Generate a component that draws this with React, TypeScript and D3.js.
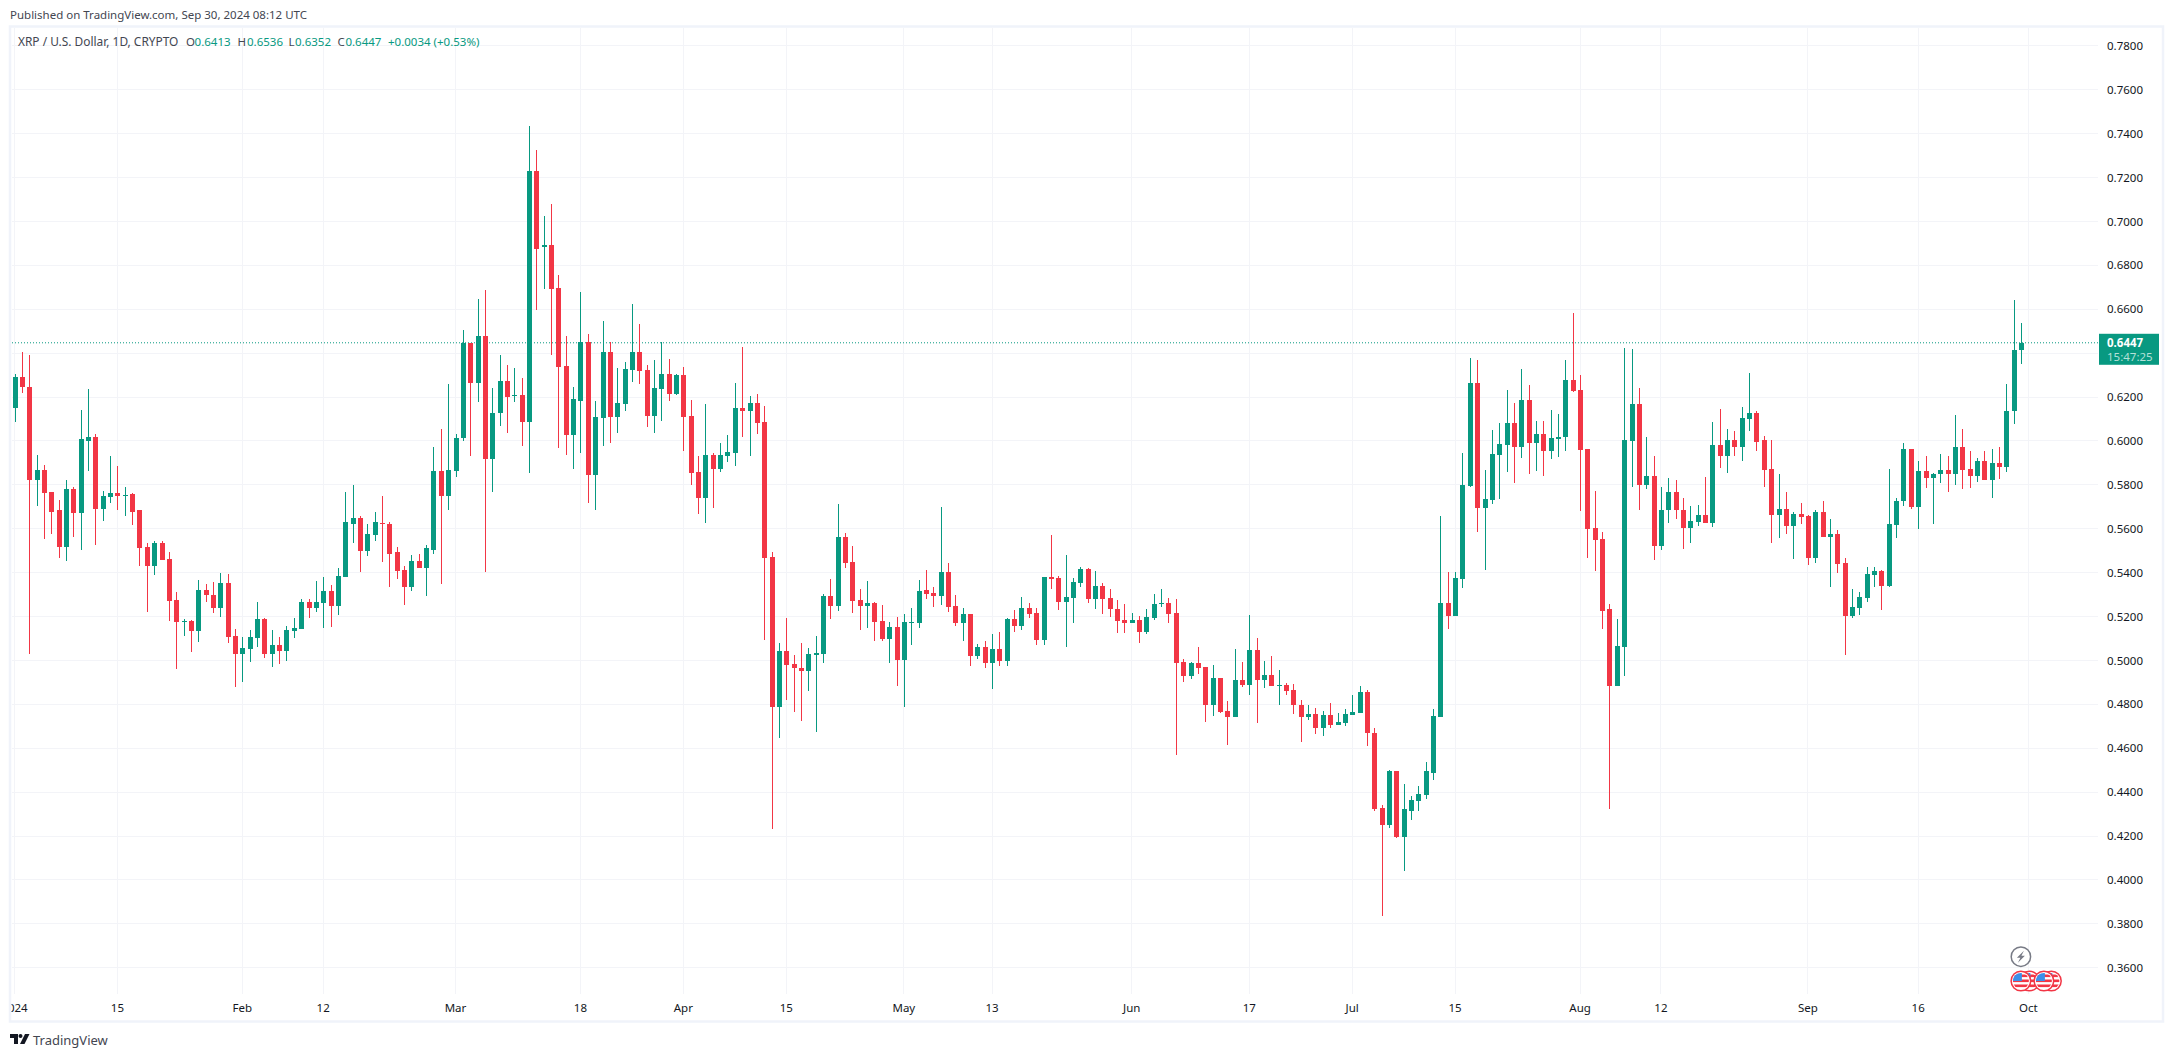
import * as d3 from 'd3';
import React, { useEffect, useRef } from 'react';

type Ohlc = [number, number, number, number];

// open, high, low, close per day
const jan: Ohlc[] = [
  [.6151,.6305,.6084,.6293],[.6293,.6403,.6220,.6244],[.6246,.6393,.5028,.5820],[.5820,.5938,.5702,.5869],
  [.5869,.5891,.5552,.5761],[.5765,.5765,.5574,.5678],[.5684,.5733,.5465,.5516],[.5516,.5820,.5451,.5780],
  [.5780,.5790,.5560,.5670],[.5670,.6143,.5501,.6007],[.6001,.6238,.5861,.6019],[.6019,.6033,.5528,.5692],
  [.5692,.5773,.5633,.5747],[.5743,.5930,.5715,.5761],[.5761,.5887,.5684,.5747],[.5753,.5792,.5660,.5755],
  [.5757,.5761,.5615,.5678],[.5684,.5684,.5432,.5510],[.5516,.5534,.5219,.5432],[.5432,.5546,.5390,.5534],
  [.5534,.5546,.5457,.5457],[.5461,.5493,.5179,.5270],[.5274,.5311,.4959,.5175],[.5179,.5187,.5110,.5181],
  [.5181,.5185,.5039,.5134],[.5134,.5365,.5083,.5319],[.5319,.5347,.5266,.5296],[.5300,.5355,.5215,.5238],
  [.5238,.5396,.5197,.5351],[.5351,.5392,.5079,.5106],[.5110,.5144,.4878,.5028],
];
const feb: Ohlc[] = [
  [.5028,.5106,.4901,.5055],[.5051,.5138,.4992,.5106],[.5102,.5266,.5063,.5187],[.5187,.5193,.5012,.5028],
  [.5028,.5138,.4970,.5069],[.5069,.5106,.4984,.5043],[.5043,.5156,.4996,.5138],[.5134,.5193,.5102,.5146],
  [.5142,.5282,.5142,.5266],[.5266,.5282,.5193,.5238],[.5238,.5361,.5219,.5266],[.5260,.5380,.5146,.5315],
  [.5315,.5343,.5152,.5248],[.5248,.5420,.5205,.5384],[.5380,.5769,.5380,.5629],[.5623,.5798,.5534,.5648],
  [.5648,.5656,.5402,.5497],[.5497,.5623,.5475,.5574],[.5570,.5678,.5542,.5629],[.5627,.5751,.5447,.5625],
  [.5623,.5629,.5333,.5487],[.5493,.5516,.5369,.5406],[.5410,.5432,.5252,.5333],[.5333,.5479,.5315,.5451],
  [.5451,.5487,.5420,.5420],[.5420,.5528,.5292,.5510],[.5505,.5970,.5483,.5865],[.5865,.6056,.5347,.5747],
  [.5747,.6261,.5684,.5869],
];
const mar: Ohlc[] = [
  [.5865,.6033,.5834,.6015],[.6011,.6506,.6001,.6447],[.6447,.6447,.5930,.6265],[.6265,.6646,.6175,.6480],
  [.6480,.6689,.5402,.5916],[.5916,.6242,.5765,.6129],[.6125,.6393,.6070,.6275],[.6275,.6348,.6037,.6202],
  [.6206,.6334,.6175,.6210],[.6210,.6287,.5978,.6088],[.6088,.7436,.5853,.7229],[.7229,.7324,.6596,.6874],
  [.6883,.7026,.6693,.6894],[.6894,.7079,.6392,.6693],[.6697,.6755,.5969,.6337],[.6342,.6479,.5938,.6028],
  [.6028,.6247,.5874,.6192],[.6183,.6679,.5946,.6452],[.6452,.6487,.5719,.5845],[.5845,.6183,.5686,.6110],
  [.6105,.6547,.5977,.6406],[.6406,.6452,.5991,.6110],[.6110,.6333,.6037,.6174],[.6169,.6359,.6136,.6328],
  [.6324,.6624,.6269,.6406],[.6406,.6534,.6260,.6320],[.6324,.6346,.6063,.6114],[.6114,.6370,.6037,.6242],
  [.6238,.6452,.6092,.6306],[.6306,.6375,.6183,.6214],[.6214,.6306,.6209,.6298],
];
const apr: Ohlc[] = [
  [.6298,.6337,.5955,.6110],[.6114,.6187,.5801,.5854],[.5860,.5933,.5668,.5741],[.5741,.6169,.5626,.5938],
  [.5938,.5946,.5695,.5874],[.5874,.5991,.5860,.5938],[.5933,.6028,.5902,.5951],[.5946,.6264,.5887,.6152],
  [.6152,.6428,.6019,.6136],[.6136,.6205,.5933,.6174],[.6174,.6214,.6033,.6083],[.6088,.6161,.5094,.5467],
  [.5472,.5494,.4233,.4789],[.4789,.5081,.4648,.5043],[.5043,.5193,.4820,.4979],[.4984,.5026,.4765,.4966],
  [.4966,.5081,.4725,.4953],[.4953,.5057,.4862,.5030],[.5026,.5112,.4675,.5035],[.5030,.5302,.4988,.5295],
  [.5295,.5372,.5189,.5249],[.5249,.5712,.5227,.5562],[.5562,.5582,.5421,.5445],[.5450,.5522,.5218,.5271],
  [.5275,.5326,.5140,.5249],[.5249,.5364,.5149,.5262],[.5262,.5266,.5090,.5176],[.5180,.5253,.5090,.5099],
  [.5099,.5176,.4988,.5154],[.5154,.5198,.4884,.5004],
];
const may: Ohlc[] = [
  [.5004,.5213,.4789,.5176],[.5171,.5240,.5068,.5176],[.5171,.5368,.5149,.5317],[.5322,.5412,.5280,.5304],
  [.5308,.5335,.5244,.5295],[.5295,.5699,.5253,.5403],[.5403,.5445,.5222,.5244],[.5249,.5300,.5158,.5171],
  [.5171,.5240,.5090,.5213],[.5213,.5213,.4975,.5021],[.5021,.5076,.5008,.5061],[.5061,.5090,.4966,.4988],
  [.4988,.5121,.4871,.5052],[.5052,.5130,.4975,.4997],[.4999,.5193,.4975,.5189],[.5189,.5231,.5130,.5158],
  [.5158,.5291,.5140,.5240],[.5240,.5262,.5193,.5213],[.5218,.5240,.5072,.5094],[.5094,.5381,.5072,.5381],
  [.5381,.5573,.5326,.5372],[.5377,.5386,.5231,.5266],[.5266,.5481,.5061,.5291],[.5286,.5377,.5171,.5359],
  [.5354,.5427,.5335,.5417],[.5417,.5423,.5262,.5281],[.5281,.5409,.5236,.5340],[.5340,.5354,.5213,.5281],
  [.5285,.5327,.5199,.5232],[.5236,.5277,.5126,.5181],[.5185,.5258,.5126,.5171],
];
const jun: Ohlc[] = [
  [.5171,.5218,.5171,.5185],[.5185,.5201,.5081,.5130],[.5130,.5232,.5122,.5199],[.5195,.5303,.5185,.5258],
  [.5258,.5327,.5244,.5262],[.5262,.5285,.5171,.5213],[.5218,.5281,.4571,.4990],[.4994,.5008,.4902,.4927],
  [.4927,.4994,.4917,.4990],[.4990,.5063,.4939,.4967],[.4971,.4971,.4721,.4799],[.4799,.4979,.4748,.4921],
  [.4921,.4921,.4762,.4766],[.4770,.4813,.4616,.4744],[.4744,.5053,.4744,.4909],[.4909,.4994,.4880,.4890],
  [.4890,.5207,.4843,.5049],[.5049,.5100,.4715,.4909],[.4909,.4998,.4872,.4935],[.4935,.5022,.4884,.4884],
  [.4886,.4957,.4799,.4890],[.4890,.4898,.4843,.4862],[.4866,.4894,.4758,.4795],[.4799,.4821,.4626,.4740],
  [.4740,.4799,.4730,.4758],[.4758,.4785,.4663,.4693],[.4693,.4770,.4656,.4752],[.4752,.4807,.4693,.4707],
  [.4707,.4762,.4707,.4721],[.4715,.4780,.4699,.4758],
];
const jul: Ohlc[] = [
  [.4752,.4843,.4752,.4766],[.4762,.4884,.4762,.4854],[.4854,.4866,.4612,.4667],[.4671,.4693,.4315,.4325],
  [.4329,.4339,.3837,.4248],[.4248,.4502,.4238,.4494],[.4494,.4494,.4189,.4197],[.4197,.4439,.4042,.4321],
  [.4315,.4384,.4274,.4362],[.4358,.4429,.4315,.4392],[.4388,.4539,.4370,.4494],[.4488,.4780,.4453,.4748],
  [.4744,.5659,.4744,.5262],[.5262,.5405,.5142,.5203],[.5203,.5405,.5203,.5376],[.5372,.5945,.5331,.5801],
  [.5795,.6378,.5789,.6265],[.6265,.6370,.5586,.5695],[.5695,.5868,.5413,.5736],[.5732,.6051,.5714,.5941],
  [.5937,.6082,.5736,.5986],[.5982,.6232,.5860,.6082],[.6082,.6173,.5809,.5974],[.5974,.6328,.5923,.6187],
  [.6187,.6256,.5850,.5992],[.5992,.6092,.5864,.6033],[.6033,.6092,.5842,.5956],[.5956,.6143,.5919,.6014],
  [.6010,.6124,.5927,.6016],[.6018,.6370,.5956,.6279],[.6279,.6584,.6224,.6228],
];
const aug: Ohlc[] = [
  [.6232,.6301,.5681,.5960],[.5964,.5964,.5468,.5600],[.5604,.5773,.5409,.5549],[.5555,.5586,.5144,.5226],
  [.5232,.5258,.4325,.4884],[.4884,.5189,.4884,.5067],[.5060,.6425,.4930,.6002],[.5998,.6419,.5789,.6166],
  [.6166,.6243,.5683,.5801],[.5801,.6020,.5783,.5842],[.5842,.5933,.5459,.5523],[.5523,.5792,.5505,.5687],
  [.5683,.5833,.5628,.5769],[.5769,.5824,.5646,.5683],[.5687,.5742,.5509,.5605],[.5605,.5705,.5537,.5637],
  [.5632,.5710,.5614,.5664],[.5664,.5837,.5628,.5628],[.5628,.6088,.5610,.5983],[.5983,.6147,.5878,.5933],
  [.5933,.6056,.5856,.6002],[.6002,.6043,.5929,.5970],[.5970,.6156,.5910,.6106],[.6102,.6311,.6047,.6129],
  [.6129,.6138,.5956,.5997],[.6002,.6024,.5792,.5869],[.5874,.6002,.5537,.5664],[.5664,.5847,.5559,.5692],
  [.5692,.5769,.5578,.5614],[.5614,.5678,.5464,.5669],[.5669,.5719,.5623,.5655],
];
const sep: Ohlc[] = [
  [.5660,.5664,.5436,.5468],[.5468,.5687,.5446,.5678],[.5678,.5724,.5564,.5564],[.5564,.5646,.5336,.5578],
  [.5578,.5596,.5400,.5441],[.5446,.5468,.5026,.5204],[.5204,.5327,.5195,.5245],[.5240,.5313,.5209,.5291],
  [.5286,.5427,.5268,.5395],[.5391,.5427,.5336,.5409],[.5409,.5414,.5231,.5341],[.5341,.5874,.5336,.5623],
  [.5619,.5742,.5559,.5728],[.5724,.5992,.5705,.5961],[.5961,.5961,.5692,.5701],[.5701,.5910,.5600,.5865],
  [.5865,.5933,.5787,.5833],[.5833,.5856,.5623,.5851],[.5847,.5942,.5810,.5869],[.5869,.5929,.5765,.5847],
  [.5847,.6120,.5801,.5974],[.5974,.6052,.5783,.5869],[.5874,.5956,.5787,.5842],[.5842,.5924,.5815,.5910],
  [.5910,.5956,.5824,.5824],[.5824,.5961,.5742,.5901],[.5901,.5970,.5828,.5883],[.5883,.6257,.5860,.6138],
  [.6134,.6644,.6079,.6412],[.6413,.6536,.6352,.6447],
];

const priceTicks = d3.range(18, 40).map(i => i * 0.02);
const timeTicks: [string, string][] = [
  ['2024-01-01', '2024'], ['2024-01-15', '15'], ['2024-02-01', 'Feb'], ['2024-02-12', '12'],
  ['2024-03-01', 'Mar'], ['2024-03-18', '18'], ['2024-04-01', 'Apr'], ['2024-04-15', '15'],
  ['2024-05-01', 'May'], ['2024-05-13', '13'], ['2024-06-01', 'Jun'], ['2024-06-17', '17'],
  ['2024-07-01', 'Jul'], ['2024-07-15', '15'], ['2024-08-01', 'Aug'], ['2024-08-12', '12'],
  ['2024-09-01', 'Sep'], ['2024-09-16', '16'], ['2024-10-01', 'Oct'],
];
const lastPrice = 0.6447;
const countdown = '15:47:25';
const publishedText = 'Published on TradingView.com, Sep 30, 2024 08:12 UTC';
const legendTitle = 'XRP / U.S. Dollar, 1D, CRYPTO';
const legendLabels = ['O', 'H', 'L', 'C'];
const legendValues = ['0.6413', '0.6536', '0.6352', '0.6447'];
const legendChange = '+0.0034 (+0.53%)';

const GREEN = '#089981';
const RED = '#F23645';
const BORDER = '#F0F3FA';
const GRID = '#F3F4F8';
const FONT = '"Noto Sans", sans-serif';

const App: React.FC = () => {
  const svgRef = useRef<SVGSVGElement>(null);

  useEffect(() => {
    if (!svgRef.current) return;
    const svg = d3.select(svgRef.current);
    svg.selectAll('*').remove();

    const candles = [...jan, ...feb, ...mar, ...apr, ...may, ...jun, ...jul, ...aug, ...sep];
    const day0 = new Date(Date.UTC(2024, 0, 1));

    const plot = { left: 11, right: 2098, top: 28, bottom: 994 };

    const xScale = d3.scaleUtc()
      .domain([day0, new Date(Date.UTC(2024, 9, 1))])
      .range([14.5, 2028.4]);
    const yScale = d3.scaleLinear().domain([0.78, 0.36]).range([45.8, 967.7]);
    const dayX = (i: number) => xScale(d3.utcDay.offset(day0, i));

    svg.append('rect').attr('width', 2174).attr('height', 1057).attr('fill', '#fff');

    // panel border
    svg.append('rect')
      .attr('x', 10).attr('y', 26.5).attr('width', 2153).attr('height', 995)
      .attr('fill', 'none').attr('stroke', BORDER).attr('stroke-width', 2.5);

    svg.append('defs').append('clipPath').attr('id', 'time-clip')
      .append('rect').attr('x', plot.left + 0.5).attr('y', plot.top)
      .attr('width', 2150).attr('height', 990);

    // grid
    const grid = svg.append('g').attr('shape-rendering', 'crispEdges');
    grid.selectAll('.gy').data(priceTicks).join('line')
      .attr('x1', plot.left + 1).attr('x2', plot.right)
      .attr('y1', d => yScale(d)).attr('y2', d => yScale(d))
      .attr('stroke', GRID).attr('stroke-width', 1);
    grid.selectAll('.gx').data(timeTicks).join('line')
      .attr('x1', d => xScale(new Date(d[0]))).attr('x2', d => xScale(new Date(d[0])))
      .attr('y1', plot.top).attr('y2', plot.bottom)
      .attr('stroke', GRID).attr('stroke-width', 1);

    // last price line
    svg.append('line')
      .attr('x1', plot.left + 1).attr('x2', plot.right)
      .attr('y1', yScale(lastPrice)).attr('y2', yScale(lastPrice))
      .attr('stroke', GREEN).attr('stroke-width', 1).attr('stroke-dasharray', '1 2');

    // candles
    const bars = svg.append('g').attr('shape-rendering', 'crispEdges');
    const colorOf = (d: Ohlc) => (d[3] >= d[0] ? GREEN : RED);
    bars.selectAll('.wick').data(candles).join('line')
      .attr('x1', (_, i) => Math.round(dayX(i)) + 0.5).attr('x2', (_, i) => Math.round(dayX(i)) + 0.5)
      .attr('y1', d => yScale(d[1])).attr('y2', d => yScale(d[2]))
      .attr('stroke', colorOf).attr('stroke-width', 1);
    bars.selectAll('.body').data(candles).join('rect')
      .attr('x', (_, i) => Math.round(dayX(i)) - 2)
      .attr('width', 5)
      .attr('y', d => yScale(Math.max(d[0], d[3])))
      .attr('height', d => Math.max(1.5, Math.abs(yScale(d[0]) - yScale(d[3]))))
      .attr('fill', colorOf);

    // price axis, the 0.6400 label sits behind the last price tag
    const yAxis = svg.append('g')
      .attr('transform', `translate(${plot.right + 9}, 0)`)
      .call(d3.axisRight(yScale)
        .tickValues(priceTicks.filter(p => Math.abs(p - 0.64) > 0.001))
        .tickSize(0).tickPadding(0).tickFormat(d3.format('.4f')));
    yAxis.select('.domain').remove();
    yAxis.selectAll('text').style('font-family', FONT).style('font-size', '11.5px').attr('fill', '#131722');

    // time axis
    svg.append('g').attr('clip-path', 'url(#time-clip)')
      .selectAll('text').data(timeTicks).join('text')
      .attr('x', d => xScale(new Date(d[0])))
      .attr('y', 1008)
      .attr('dy', '0.35em')
      .attr('text-anchor', 'middle')
      .style('font-family', FONT).style('font-size', '11.5px').attr('fill', '#131722')
      .text(d => d[1]);

    // last price tag
    const tagY = yScale(lastPrice);
    svg.append('rect').attr('x', 2099).attr('y', tagY - 9).attr('width', 60).attr('height', 31).attr('fill', GREEN);
    svg.append('text').attr('x', 2107).attr('y', tagY).attr('dy', '0.35em')
      .style('font-family', FONT).style('font-size', '11.5px').style('font-weight', 700).attr('fill', '#fff')
      .text(d3.format('.4f')(lastPrice));
    svg.append('text').attr('x', 2107).attr('y', tagY + 14.5).attr('dy', '0.35em')
      .style('font-family', FONT).style('font-size', '11.5px').attr('fill', '#B5E0D8')
      .text(countdown);

    // header and legend
    svg.append('text').attr('x', 10).attr('y', 14.5).attr('dy', '0.35em')
      .style('font-family', FONT).style('font-size', '11.5px').attr('fill', '#434651')
      .text(publishedText);
    const legend = svg.append('g').style('font-family', FONT).style('font-size', '11.5px');
    const legendY = 41.5;
    legend.append('text').attr('x', 18).attr('y', legendY).attr('dy', '0.35em')
      .style('font-size', '11.9px').attr('fill', '#434651').text(legendTitle);
    const labelX = [186, 237.6, 288.6, 337.5];
    const valueX = [194.6, 247, 295, 345.4];
    legendLabels.forEach((label, i) => {
      legend.append('text').attr('x', labelX[i]).attr('y', legendY).attr('dy', '0.35em').attr('fill', '#434651').text(label);
      legend.append('text').attr('x', valueX[i]).attr('y', legendY).attr('dy', '0.35em').attr('fill', GREEN).text(legendValues[i]);
    });
    legend.append('text').attr('x', 388).attr('y', legendY).attr('dy', '0.35em').attr('fill', GREEN).text(legendChange);

    // event markers near the Oct tick
    const octX = xScale(new Date('2024-10-01'));
    const bolt = svg.append('g').attr('transform', `translate(${octX - 7.5}, 956.7)`);
    bolt.append('circle').attr('r', 9.7).attr('fill', '#fff').attr('stroke', '#787B86').attr('stroke-width', 1.5);
    bolt.append('path').attr('d', 'M3,-6 L-4,1 L-0.5,1 L-3,6 L4,-1 L0.5,-1 Z').attr('fill', '#787B86');

    const flagOffsets = [8.5, 0, 30.5, 23];
    flagOffsets.forEach((dx, k) => {
      const g = svg.append('g').attr('transform', `translate(${octX - 7.5 + dx}, 981)`);
      const id = `flag-${k}`;
      g.append('clipPath').attr('id', id).append('circle').attr('r', 8);
      g.append('circle').attr('r', 9.8).attr('fill', '#fff').attr('stroke', RED).attr('stroke-width', 1.5);
      const inner = g.append('g').attr('clip-path', `url(#${id})`);
      [-6.5, -1.5, 3.5].forEach(y => {
        inner.append('rect').attr('x', -9).attr('y', y).attr('width', 18).attr('height', 2.6).attr('fill', RED);
      });
      inner.append('rect').attr('x', -9).attr('y', -9).attr('width', 10).attr('height', 9).attr('fill', '#3C8FE8');
    });

    // TradingView mark
    const logo = svg.append('g').attr('transform', 'translate(10, 1034)').attr('fill', '#131722');
    logo.append('path').attr('d', 'M0,0 H8 V10 H4 V4 H0 Z');
    logo.append('circle').attr('cx', 10.5).attr('cy', 2).attr('r', 2);
    logo.append('path').attr('d', 'M15,0 H19.5 L14.5,10 H10 Z');
    svg.append('text').attr('x', 33).attr('y', 1040).attr('dy', '0.35em')
      .style('font-family', FONT).style('font-size', '13px').attr('fill', '#434651')
      .text('TradingView');
  }, []);

  return <svg ref={svgRef} width={2174} height={1057} style={{ position: 'absolute', left: 0, top: 0 }} />;
};

export default App;
